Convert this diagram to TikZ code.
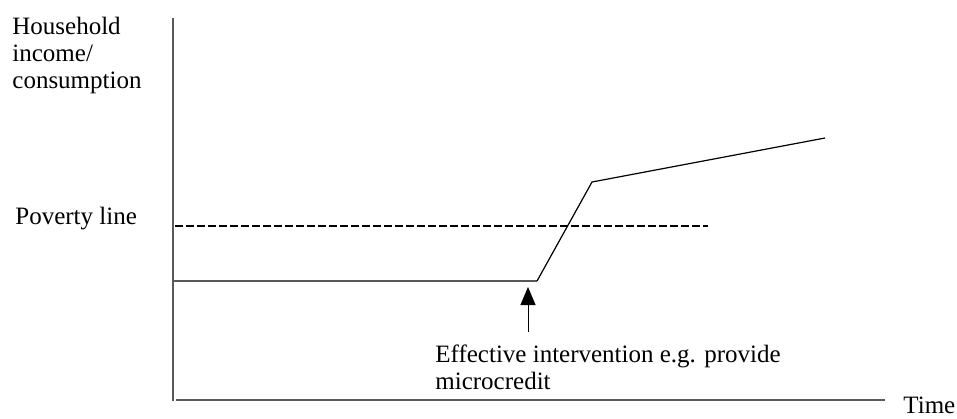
\documentclass[tikz,border=0pt]{standalone}
\usepackage{fontspec}
\setmainfont{Liberation Serif}
\usetikzlibrary{arrows.meta,positioning}
\tikzset{
  axis/.style={draw=black!65,line width=1pt},
  label/.style={anchor=base west,inner sep=0pt,align=left,
    font=\fontsize{12.5}{13.5}\selectfont},
  povline/.style={line width=0.55pt,dash pattern=on 3.75pt off 1.75pt},
  baseline/.style={draw=black!65,line width=1pt},
  riseline/.style={line width=0.6pt}
}
\begin{document}
\begin{tikzpicture}[x=0.5pt,y=-0.5pt]
	\useasboundingbox (0,0) rectangle (957,418);
	% axes
	\coordinate (ytop) at (173,18);
	\coordinate (origin) at (173,401);
	\coordinate (xend) at (885,400);
	\draw[axis] (ytop) -- (origin);
	\draw[axis] (origin) ++(3,-1) -- (xend);
	% base anchor sits on the last line
	\node[label] (ylab) at (12,88) {Household\\income/\\consumption};
	\node[label] (xlab) at (903,413) {Time};
	% poverty line
	\coordinate (pov0) at (175,226);
	\coordinate (pov1) at (708,226);
	\draw[povline] (pov0) -- (pov1);
	\node[label] (povlab) at (15,224) {Poverty line};
	% income path
	\coordinate (flat0) at (173,281);
	\coordinate (kick) at (537,281);
	\coordinate (jump) at (592,182);
	\coordinate (late) at (825,138);
	\draw[baseline] (flat0) -- (kick);
	\draw[riseline] (kick) -- (jump) -- (late);
	% intervention
	\node[label] (note) at (435,389) {Effective intervention e.g. provide\\microcredit};
	\coordinate (tail) at (528,332);
	\coordinate (tip) at (528,287);
	\draw[line width=0.5pt,-{Triangle[length=9pt,width=7.5pt]}] (tail) -- (tip);
\end{tikzpicture}
\end{document}
